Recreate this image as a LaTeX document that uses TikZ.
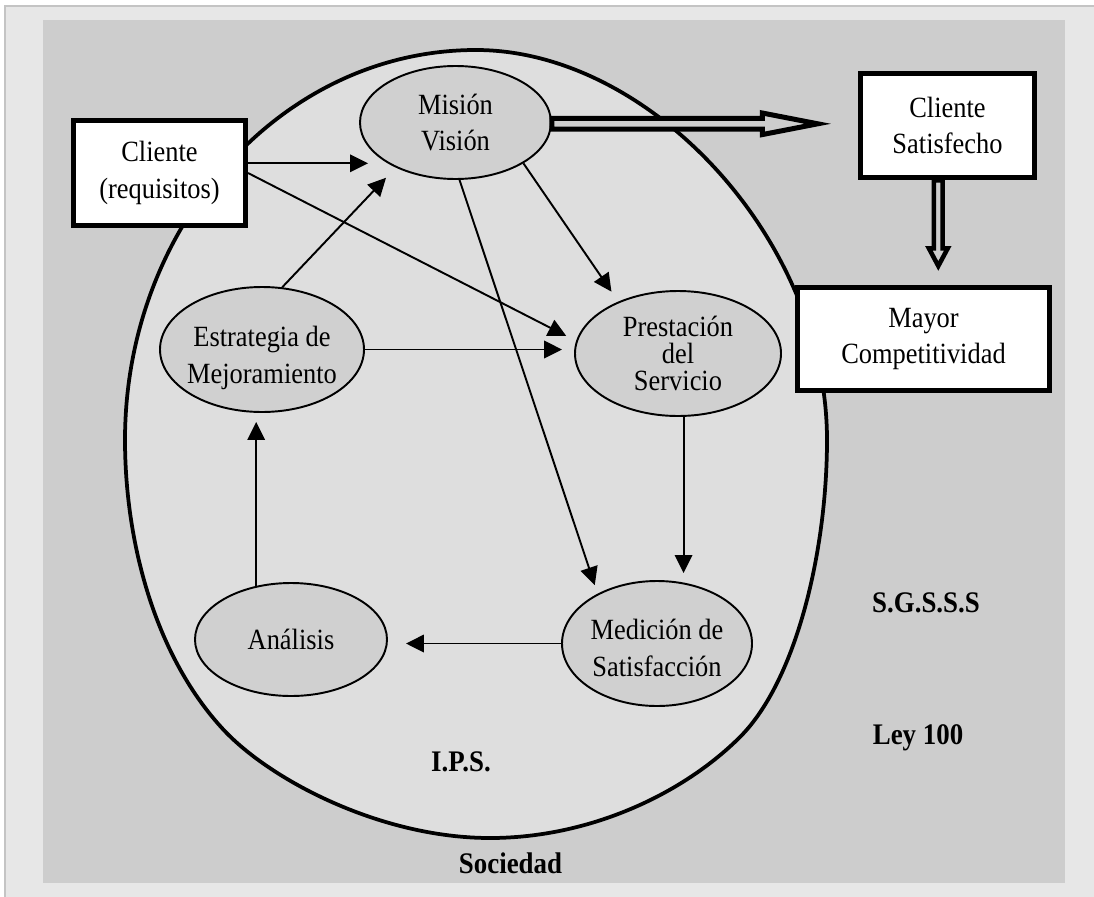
\documentclass[tikz,border=0pt]{standalone}
\usepackage{amsmath, amssymb}
\usepackage{xcolor}
\usepackage{fontspec}
\setmainfont{Liberation Serif}[FakeStretch=0.9]
\usepackage{tikz}
\usetikzlibrary{shapes.geometric, arrows.meta, calc}

\definecolor{frameGray}{HTML}{E7E7E7}
\definecolor{frameLine}{HTML}{C4C4C4}
\definecolor{panelGray}{HTML}{CDCDCD}
\definecolor{ipsGray}{HTML}{DEDEDE}
\definecolor{stageGray}{HTML}{D0D0D0}

\begin{document}
\begin{tikzpicture}[x=0.2mm, y=-0.2mm,
        box/.style={draw, fill=white, line width=1mm, align=center, inner sep=0pt,
            font=\fontsize{16.7}{21}\selectfont},
        stage/.style={ellipse, draw, fill=stageGray, line width=1.1pt, inner sep=0pt},
        txt/.style={align=center, inner sep=0pt, font=\fontsize{16.7}{21}\selectfont},
        tag/.style={inner sep=0pt, font=\fontsize{17}{21}\selectfont\bfseries},
        arr/.style={line width=1.1pt, -{Triangle[length=3.6mm, width=3.5mm]}},
        hollow/.style={draw, fill=panelGray, line width=1mm, line join=miter}]
    \useasboundingbox (0,0) rectangle (1094,896);
    \fill[white] (0,0) rectangle (1094,896);
    \draw[frameLine, line width=0.3mm, fill=frameGray] (5,6) rectangle (1120,920);
    \fill[panelGray] (43,20) rectangle (1065,883);

    % Sociedad / I.P.S.
    \draw[line width=0.75mm, fill=ipsGray] (125,440) .. controls (125,225) and (282,50) .. (476,50)
        .. controls (650,50) and (827,240) .. (827,440)
        .. controls (827,550) and (796.6,680.4) .. (740,737)
        .. controls (683.4,793.6) and (590,838) .. (490,838)
        .. controls (380,838) and (267.6,779) .. (221,727)
        .. controls (154,653) and (125,540) .. (125,440) -- cycle;

    \node[box, minimum width=34.4mm, minimum height=21mm] (cliente) at (159.5,173) {Cliente\\(requisitos)};
    \node[box, minimum width=34.9mm, minimum height=20.9mm] (satisfecho) at (947.5,125.5) {Cliente\\Satisfecho};
    \node[box, minimum width=50.4mm, minimum height=20.6mm] (competitividad) at (923.5,339) {Mayor\\Competitividad};

    \node[stage, minimum width=38.2mm, minimum height=22.6mm] (mision) at (455.5,122.5) {};
    \node[txt] (misionTxt) at (mision) {Misión\\Visión};
    \node[stage, minimum width=40.8mm, minimum height=25mm] (estrategia) at (262,349.5) {};
    \node[txt] (estrategiaTxt) at ([yshift=-1.6mm]estrategia.center) {Estrategia de\\Mejoramiento};
    \node[stage, minimum width=41.2mm, minimum height=25mm] (prestacion) at (678,353.5) {};
    \node[txt, font=\fontsize{16.7}{15.5}\selectfont] (prestacionTxt) at (prestacion) {Prestación\\del\\Servicio};
    \node[stage, minimum width=38.4mm, minimum height=22.6mm] (analisis) at (291,639.5) {};
    \node[txt] (analisisTxt) at (analisis) {Análisis};
    \node[stage, minimum width=38mm, minimum height=25mm] (medicion) at (657,643.5) {};
    \node[txt] (medicionTxt) at ([yshift=-0.8mm]medicion.center) {Medición de\\Satisfacción};

    \draw[arr, shorten >=3.9mm] (cliente.east |- mision.211) -- (mision.211); % cliente-mision
    \draw[arr, shorten >=2.2mm] (cliente.east) -- (prestacion.173); % cliente-prestacion
    \draw[arr, shorten >=2.8mm] (estrategia.72) -- (mision.217); % estrategia-mision
    \draw[arr, shorten >=2.4mm] (estrategia.east) -- (estrategia.east -| prestacion.west); % estrategia-prestacion
    \draw[arr, shorten >=2.4mm] (mision.329) -- (prestacion.139); % mision-prestacion
    \draw[arr, shorten >=1.8mm] (mision.274) -- (medicion.140); % mision-medicion
    \draw[arr, shorten >=1.4mm] (prestacion.275) -- (prestacion.275 |- medicion.north); % prestacion-medicion
    \draw[arr, shorten >=3.6mm] (medicion.west) -- (medicion.west -| analisis.east); % medicion-analisis
    \draw[arr, shorten >=1.8mm] (analisis.123) -- (analisis.123 |- estrategia.south); % analisis-estrategia

    \coordinate (tipA) at ($(mision.east -| satisfecho.west)+(-40,1.3)$);
    \draw[hollow] ($(mision.east)+(0,-4.05)$) -- ($(tipA)+(-55.5,-5.35)$) -- ++(0,-5.45) -- (tipA)
        -- ++(-55.5,10.8) -- ++(0,-5.45) -- ($(mision.east)+(0,6.65)$) -- cycle; % mision-satisfecho
    \coordinate (tipB) at ($(satisfecho.south |- competitividad.north)+(-9.2,-19)$);
    \draw[hollow, line width=0.9mm] ($(satisfecho.south)+(-13.6,0)$) -- ($(tipB)+(-4.4,-17.7)$) -- ++(-5.05,0) -- (tipB)
        -- ++(9.45,-17.7) -- ++(-5.05,0) -- ($(satisfecho.south)+(-4.8,0)$) -- cycle; % satisfecho-competitividad

    \node[tag] (sgsss) at (926,603) {S.G.S.S.S};
    \node[tag] (ley) at (918,738) {Ley 100};
    \node[tag] (ips) at (461,762) {I.P.S.};
    \node[tag] (sociedad) at (510.5,863) {Sociedad};
\end{tikzpicture}
\end{document}
